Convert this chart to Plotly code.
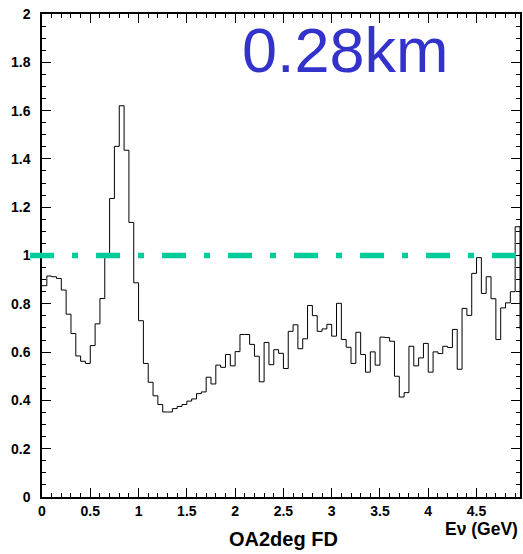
import numpy as np
import plotly.graph_objects as go

# Histogram: ratio vs neutrino energy, 0.05 GeV bins starting at 0
bin_width = 0.05
ratio = [
    0.875, 0.915, 0.912, 0.905, 0.857, 0.757, 0.677, 0.584, 0.562, 0.553,
    0.627, 0.717, 0.822, 1.000, 1.236, 1.452, 1.620, 1.436, 1.137, 0.887,
    0.730, 0.553, 0.475, 0.419, 0.383, 0.352, 0.352, 0.366, 0.375, 0.383,
    0.397, 0.406, 0.428, 0.435, 0.496, 0.468, 0.546, 0.537, 0.590, 0.543,
    0.602, 0.673, 0.673, 0.632, 0.583, 0.477, 0.640, 0.548, 0.610, 0.595,
    0.532, 0.686, 0.713, 0.614, 0.655, 0.793, 0.751, 0.686, 0.696, 0.715,
    0.666, 0.802, 0.652, 0.620, 0.553, 0.682, 0.590, 0.517, 0.601, 0.546,
    0.662, 0.660, 0.645, 0.500, 0.414, 0.432, 0.624, 0.543, 0.576, 0.636,
    0.517, 0.601, 0.594, 0.624, 0.619, 0.694, 0.529, 0.781, 0.752, 0.926,
    0.991, 0.843, 0.912, 0.821, 0.652, 0.783, 0.804, 0.850, 1.119, 0.695,
]
reference_level = 1.0
x_ticks = [0, 0.5, 1, 1.5, 2, 2.5, 3, 3.5, 4, 4.5]
x_tick_labels = ["0", "0.5", "1", "1.5", "2", "2.5", "3", "3.5", "4", "4.5"]
y_ticks = [0, 0.2, 0.4, 0.6, 0.8, 1, 1.2, 1.4, 1.6, 1.8, 2]
y_tick_labels = ["0", "0.2", "0.4", "0.6", "0.8", "1", "1.2", "1.4", "1.6", "1.8", "2"]
distance_label = "0.28km"
title_text = "OA2deg FD"
x_title = "Eν (GeV)"

n = len(ratio)
left_edges = np.arange(n) * bin_width
xs = list(left_edges) + [n * bin_width]
ys = list(ratio) + [ratio[-1]]

fig = go.Figure()
fig.add_trace(go.Scatter(
    x=xs, y=ys, mode="lines", line=dict(color="black", width=1, shape="hv"),
    hoverinfo="skip", showlegend=False,
))

fig.add_shape(type="line", xref="paper", yref="y", x0=-0.025, x1=1.0,
              y0=reference_level, y1=reference_level,
              line=dict(color="#00CC99", width=5.5, dash="24px,18px,6px,18px"),
              layer="above")

tickfont = dict(family="Liberation Sans, Arial, sans-serif", size=14, color="black", weight="bold")
axis_common = dict(
    showgrid=False, zeroline=False, showline=True, linecolor="black", linewidth=1.5,
    mirror="ticks", ticks="inside", ticklen=9, tickwidth=1, tickcolor="black",
    tickfont=tickfont,
)
fig.update_xaxes(range=[0, 4.95], tickvals=x_ticks, ticktext=x_tick_labels,
                 minor=dict(dtick=0.1, tick0=0, ticks="inside", ticklen=4.5, tickcolor="black", tickwidth=1),
                 **axis_common)
fig.update_yaxes(range=[0, 2], tickvals=y_ticks, ticktext=y_tick_labels,
                 minor=dict(dtick=0.05, tick0=0, ticks="inside", ticklen=4.5, tickcolor="black", tickwidth=1),
                 ticklabelstandoff=7,
                 **axis_common)

fig.add_annotation(text=distance_label, xref="paper", yref="paper", x=0.415, y=0.926,
                   xanchor="left", yanchor="middle", showarrow=False,
                   font=dict(family="Liberation Sans, Arial, sans-serif", size=63, color="#3333CC"))
fig.add_annotation(text=title_text, xref="paper", yref="paper", x=0.506, y=-0.087,
                   xanchor="center", yanchor="middle", showarrow=False,
                   font=dict(family="Liberation Sans, Arial, sans-serif", size=20, color="black", weight="bold"))
fig.add_annotation(text=x_title, xref="paper", yref="paper", x=1.0, y=-0.066,
                   xanchor="right", yanchor="middle", showarrow=False,
                   font=dict(family="Liberation Sans, Arial, sans-serif", size=17.5, color="black", weight="bold"))

fig.update_layout(
    width=523, height=554,
    margin=dict(l=42, r=1, t=14, b=57),
    paper_bgcolor="white", plot_bgcolor="white",
    showlegend=False,
)

fig.write_html("out.html")
